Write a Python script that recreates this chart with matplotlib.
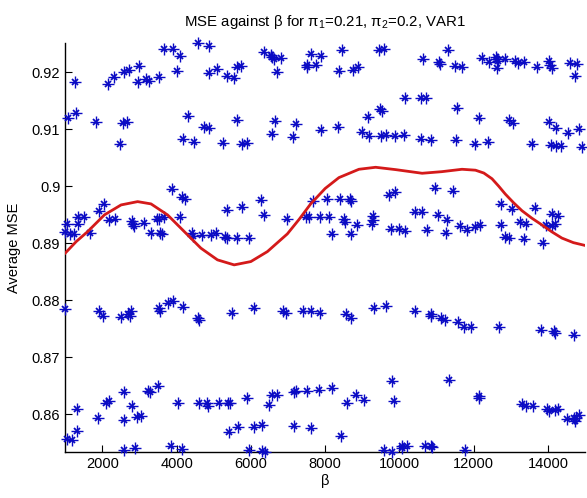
import matplotlib
matplotlib.use("Agg")
import matplotlib.pyplot as plt

plt.rcParams['font.family'] = ['Liberation Sans', 'DejaVu Sans']
plt.rcParams['mathtext.fontset'] = 'custom'
plt.rcParams['mathtext.rm'] = 'Liberation Sans'
plt.rcParams['mathtext.it'] = 'Liberation Sans:italic'

# scattered runs, grouped by the horizontal bands they fall in
beta_top = [1269, 2145, 2325, 2593, 2728, 2996, 2951, 3176, 3265, 3534, 3668, 3891,
            4098, 4009, 4582, 4877, 4877, 5084, 5369, 5549, 5622, 5729, 6355, 6578,
            6530, 6624, 6804, 6696, 7503, 7519, 7626, 7744, 7879, 8451, 8378, 8739,
            8873, 9453, 9588, 10636, 11050, 11084, 11318, 11495, 11694, 12232, 12409,
            12616, 12589, 12661, 12616, 12839, 13108, 13199, 13350, 13710, 14021,
            14048, 14094, 14577, 14784, 14720]
mse_top = [0.91830, 0.91785, 0.91918, 0.92005, 0.92040, 0.92105, 0.91830, 0.91872,
           0.91842, 0.91918, 0.92397, 0.92397, 0.92285, 0.92023, 0.92503, 0.92455,
           0.91977, 0.92053, 0.91935, 0.91890, 0.92082, 0.92105, 0.92345, 0.92268,
           0.92298, 0.92237, 0.92250, 0.91995, 0.92123, 0.92088, 0.92310, 0.92123,
           0.92285, 0.92385, 0.92018, 0.92035, 0.92093, 0.92385, 0.92397, 0.92228,
           0.92180, 0.92140, 0.92385, 0.92110, 0.92082, 0.92240, 0.92180, 0.92228,
           0.92268, 0.92198, 0.92075, 0.92222, 0.92193, 0.92152, 0.92170, 0.92093,
           0.92193, 0.92123, 0.92065, 0.92152, 0.92135, 0.91935]

beta_upper = [1089, 1296, 1833, 2548, 2666, 2486, 4313, 4160, 4474, 4743, 4877, 5245,
              5622, 5756, 5906, 6643, 6557, 7142, 7202, 7879, 8357, 9002, 9142, 9190,
              9472, 9526, 9499, 9633, 9875, 10125, 10152, 10574, 10708, 10587, 10837,
              11509, 11549, 12025, 12140, 12374, 12946, 13054, 13570, 14021, 14067,
              14220, 14201, 14349, 14543, 14827, 14908]
mse_upper = [0.91200, 0.91287, 0.91133, 0.91102, 0.91119, 0.90731, 0.91235, 0.90827,
             0.90766, 0.91037, 0.91019, 0.90757, 0.91168, 0.90731, 0.90757, 0.91151,
             0.90906, 0.90853, 0.91098, 0.90990, 0.91042, 0.90949, 0.91217, 0.90874,
             0.91352, 0.91317, 0.90883, 0.90897, 0.90871, 0.90897, 0.91540, 0.91540,
             0.91540, 0.90827, 0.90801, 0.90801, 0.91375, 0.90739, 0.91200, 0.90769,
             0.91160, 0.91102, 0.90739, 0.91119, 0.90722, 0.91014, 0.90696, 0.90704,
             0.90927, 0.91002, 0.90682]

beta_mid = [1000, 1054, 1142, 1231, 1357, 1519, 1357, 1680, 1903, 2034, 2190, 2346,
            2800, 2862, 2835, 3120, 3311, 3459, 3515, 3663, 3561, 3614, 3875, 4144,
            4232, 4079, 4407, 4447, 4697, 4931, 5057, 5313, 5348, 5622, 5944, 5369,
            5772, 6261, 6363, 6981, 7476, 7551, 7666, 7847, 8056, 8107, 8196, 8389,
            8510, 8532, 8666, 8693, 8688, 8854, 9279, 9297, 9257, 9714, 9875, 9781,
            9982, 10136, 10418, 10595, 10749, 10969, 11031, 11286, 11251, 11434,
            11617, 11810, 12038, 12167, 12745, 13024, 12734, 12844, 12952, 13242,
            13400, 13360, 13642, 13857, 13951, 14115, 14255, 14102, 14182]
mse_mid = [0.89193, 0.89338, 0.89158, 0.89163, 0.89456, 0.89453, 0.89338, 0.89176,
           0.89566, 0.89689, 0.89409, 0.89421, 0.89388, 0.89298, 0.89338, 0.89361,
           0.89176, 0.89416, 0.89421, 0.89458, 0.89186, 0.89155, 0.89946, 0.89806,
           0.89771, 0.89461, 0.89176, 0.89128, 0.89137, 0.89137, 0.89176, 0.89116,
           0.89085, 0.89088, 0.89088, 0.89578, 0.89641, 0.89759, 0.89496, 0.89421,
           0.89456, 0.89456, 0.89745, 0.89456, 0.89771, 0.89461, 0.89170, 0.89771,
           0.89421, 0.89374, 0.89771, 0.89741, 0.89170, 0.89312, 0.89470, 0.89400,
           0.89338, 0.89846, 0.89904, 0.89254, 0.89246, 0.89212, 0.89545, 0.89545,
           0.89233, 0.89964, 0.89487, 0.89414, 0.89186, 0.89922, 0.89298, 0.89225,
           0.89286, 0.89321, 0.89694, 0.89596, 0.89312, 0.89116, 0.89088, 0.89368,
           0.89344, 0.89071, 0.89622, 0.89006, 0.89312, 0.89514, 0.89473, 0.89298,
           0.89338]

beta_low = [1008, 1922, 2029, 2505, 2682, 2773, 2741, 3534, 3561, 3757, 3891, 4160,
            4563, 4609, 5503, 6086, 6866, 6954, 7403, 7610, 7852, 8550, 8685, 9311,
            9641, 10413, 10861, 10861, 11130, 11237, 11576, 11729, 11936, 12688,
            13817, 14148, 14193, 14685]
mse_low = [0.87850, 0.87820, 0.87728, 0.87715, 0.87763, 0.87803, 0.87728, 0.87862,
           0.87815, 0.87960, 0.87995, 0.87880, 0.87687, 0.87657, 0.87775, 0.87862,
           0.87815, 0.87775, 0.87820, 0.87803, 0.87775, 0.87763, 0.87687, 0.87862,
           0.87903, 0.87820, 0.87763, 0.87728, 0.87687, 0.87657, 0.87610, 0.87530,
           0.87530, 0.87530, 0.87470, 0.87453, 0.87430, 0.87395]

beta_bottom = [1062, 1183, 1330, 1330, 1895, 2102, 2190, 2585, 2572, 2585, 2795, 2884,
               2937, 3050, 3230, 3292, 3512, 3862, 4138, 4026, 4609, 4810, 4851, 5138,
               5393, 5442, 5423, 5662, 5906, 6078, 6309, 5952, 6309, 6369, 6481, 6578,
               6696, 7161, 7215, 7161, 7519, 7623, 7833, 8190, 8416, 8593, 8819, 9042,
               9580, 9786, 9848, 9803, 10071, 10206, 10063, 10700, 10835, 10878, 11326,
               11756, 12132, 12151, 13296, 13403, 13583, 13968, 14013, 14193, 14263,
               14505, 14685, 14747, 14819, 14712]
mse_bottom = [0.85565, 0.85544, 0.85702, 0.86094, 0.85928, 0.86204, 0.86227, 0.86388,
              0.85893, 0.85381, 0.86147, 0.85411, 0.85954, 0.85971, 0.86402, 0.86397,
              0.86502, 0.85446, 0.85393, 0.86199, 0.86199, 0.86192, 0.86152, 0.86199,
              0.86192, 0.86195, 0.85684, 0.85784, 0.86287, 0.85784, 0.85819, 0.85369,
              0.85351, 0.85337, 0.86160, 0.86344, 0.86344, 0.86385, 0.86406, 0.85801,
              0.86402, 0.85761, 0.86420, 0.86462, 0.85626, 0.86199, 0.86344, 0.86257,
              0.85381, 0.86577, 0.86227, 0.85334, 0.85451, 0.85451, 0.85411, 0.85451,
              0.85442, 0.85428, 0.86595, 0.85369, 0.86327, 0.86287, 0.86187, 0.86140,
              0.86140, 0.86094, 0.86052, 0.86082, 0.86094, 0.85919, 0.85936, 0.85936,
              0.85994, 0.85877]

# fitted trend (red)
curve_beta = [1000, 1300, 1607, 2056, 2505, 2951, 3311, 3757, 4206, 4654, 5100, 5549,
              5998, 6444, 6981, 7300, 7610, 8000, 8370, 8908, 9357, 9894, 10609, 11138,
              11683, 12044, 12270, 12490, 12670, 12850, 13070, 13296, 13560, 13833,
              14100, 14371, 14680, 15000]
curve_mse = [0.88825, 0.89030, 0.89204, 0.89496, 0.89671, 0.89729, 0.89689, 0.89496,
             0.89204, 0.88913, 0.88708, 0.88620, 0.88678, 0.88853, 0.89163, 0.89420,
             0.89690, 0.89960, 0.90150, 0.90296, 0.90331, 0.90290, 0.90226, 0.90254,
             0.90296, 0.90280, 0.90230, 0.90130, 0.90000, 0.89860, 0.89710, 0.89570,
             0.89440, 0.89321, 0.89200, 0.89090, 0.89010, 0.88960]


def main():
    beta = beta_top + beta_upper + beta_mid + beta_low + beta_bottom
    mse = mse_top + mse_upper + mse_mid + mse_low + mse_bottom

    fig = plt.figure(figsize=(5.87, 4.98), dpi=100)
    ax = fig.add_axes([0.111, 0.0924, 0.886, 0.8213])

    blue = '#0b0bc4'
    ax.plot(beta, mse, linestyle='none', marker='+', markersize=8,
            markeredgewidth=1.0, color=blue, clip_on=False, zorder=3)
    ax.plot(beta, mse, linestyle='none', marker='x', markersize=4,
            markeredgewidth=1.3, color=blue, clip_on=False, zorder=3)
    ax.plot(curve_beta, curve_mse, color='#d41a1a', linewidth=2.0, zorder=4)

    ax.set_xlim(1000, 15000)
    ax.set_ylim(0.8534, 0.9251)
    ax.set_xticks([2000, 4000, 6000, 8000, 10000, 12000, 14000])
    ax.set_yticks([0.86, 0.87, 0.88, 0.89, 0.90, 0.91, 0.92])
    ax.set_yticklabels(['0.86', '0.87', '0.88', '0.89', '0.9', '0.91', '0.92'])

    for side in ['top', 'right']:
        ax.spines[side].set_visible(False)
    for side in ['left', 'bottom']:
        ax.spines[side].set_linewidth(1.0)
    ax.tick_params(direction='in', length=5, width=0.8, labelsize=10.5)

    ax.set_xlabel(r'β', fontsize=10.5, labelpad=2)
    ax.set_ylabel('Average MSE', fontsize=10.5, labelpad=8)
    ax.set_title(r'MSE against β for $\mathrm{\pi}_1$=0.21, $\mathrm{\pi}_2$=0.2, VAR1',
                 fontsize=10.8, pad=12)

    fig.savefig('out.png', dpi=100)


if __name__ == "__main__":
    main()
